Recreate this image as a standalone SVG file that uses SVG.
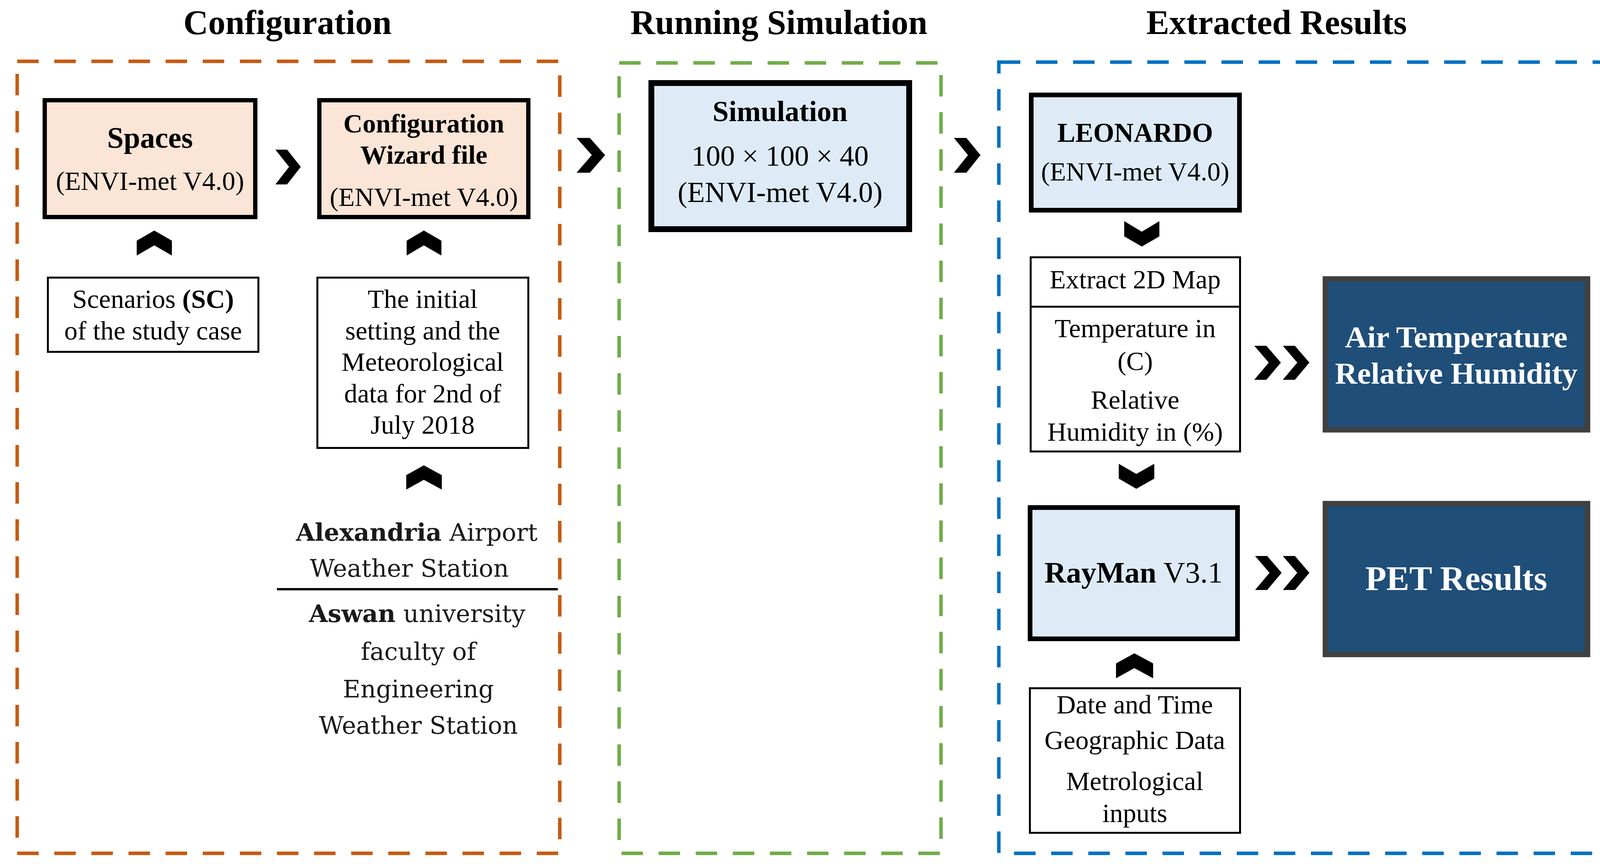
<svg xmlns="http://www.w3.org/2000/svg" width="4139" height="2219" viewBox="0 0 4139 2219">
<style>
text{font-family:"Liberation Serif","Times New Roman",serif;text-anchor:middle;fill:#000}
.title{font-size:88px;font-weight:bold}
.b{font-weight:bold}
.t{font-size:68px}
.hb{font-size:76px;font-weight:bold}
.w{font-family:"DejaVu Serif",serif;font-size:62px;fill:#1a1a1a}
.wh{fill:#fff;font-weight:bold}
.peach{fill:#FBE5D6;stroke:#000;stroke-width:11}
.lb{fill:#DEEBF7;stroke:#000;stroke-width:12}
.thin{fill:#fff;stroke:#000;stroke-width:5}
.dark{fill:#1F4E79;stroke:#404040;stroke-width:14}
.dash{fill:none;stroke-width:9;stroke-dasharray:55 40}
.chev{fill:#000}
</style>

<g id="titles">
<text class="title" x="736" y="87">Configuration</text>
<text class="title" x="1994" y="87">Running Simulation</text>
<text class="title" x="3268" y="87">Extracted Results</text>
</g>

<g id="stages">
<rect id="stage-configuration" class="dash" x="44" y="157" width="1389" height="2027" stroke="#C55A11"/>
<rect id="stage-running" class="dash" x="1585" y="161" width="824" height="2023" stroke="#70AD47"/>
<rect id="stage-results" class="dash" x="2557" y="159" width="1552" height="2025" stroke="#0070C0"/>
</g>

<g id="spaces">
<rect class="peach" x="114.5" y="256.5" width="539" height="299"/>
<text class="hb" x="384" y="378">Spaces</text>
<text class="t" x="384" y="486">(ENVI-met  V4.0)</text>
</g>

<g id="wizard">
<rect class="peach" x="817.5" y="256.5" width="535" height="299"/>
<text class="t b" x="1085" y="339">Configuration</text>
<text class="t b" x="1085" y="419">Wizard  file</text>
<text class="t" x="1085" y="527">(ENVI-met  V4.0)</text>
</g>

<g id="scenarios">
<rect class="thin" x="122.5" y="710.5" width="539" height="190"/>
<text class="t" x="392" y="788">Scenarios <tspan class="b">(SC)</tspan></text>
<text class="t" x="392" y="869">of the study case</text>
</g>

<g id="initial">
<rect class="thin" x="812.5" y="710.5" width="540" height="436"/>
<text class="t" x="1082" y="788">The initial</text>
<text class="t" x="1082" y="869">setting and the</text>
<text class="t" x="1082" y="949">Meteorological</text>
<text class="t" x="1082" y="1030">data for 2nd of</text>
<text class="t" x="1082" y="1110">July 2018</text>
</g>

<g id="stations">
<text class="w" x="1067" y="1384"><tspan font-weight="bold">Alexandria</tspan>  Airport</text>
<text class="w" x="1048" y="1476">Weather  Station</text>
<line x1="709" y1="1508" x2="1428" y2="1508" stroke="#000" stroke-width="6"/>
<text class="w" x="1068" y="1592"><tspan font-weight="bold">Aswan</tspan>  university</text>
<text class="w" x="1071" y="1689">faculty  of</text>
<text class="w" x="1071" y="1785">Engineering</text>
<text class="w" x="1071" y="1878">Weather  Station</text>
</g>

<g id="simulation">
<rect fill="#DEEBF7" stroke="#000" stroke-width="15" x="1667.5" y="212.5" width="660" height="374"/>
<text class="b" font-size="74" x="1997" y="310">Simulation</text>
<text font-size="74" x="1997" y="424">100 × 100 × 40</text>
<text font-size="74" x="1997" y="517">(ENVI-met V4.0)</text>
</g>

<g id="leonardo">
<rect class="lb" x="2640" y="243" width="533" height="295"/>
<text class="b" font-size="69" x="2906" y="363">LEONARDO</text>
<text class="t" font-size="64" x="2906" y="462">(ENVI-met V4.0)</text>
</g>

<g id="extract">
<rect class="thin" x="2638.5" y="658.5" width="536" height="497"/>
<line x1="2638" y1="785" x2="3175" y2="785" stroke="#000" stroke-width="5"/>
<text class="t" x="2906" y="738">Extract 2D Map</text>
<text class="t" x="2906" y="863">Temperature in</text>
<text class="t" x="2906" y="947">(C)</text>
<text class="t" x="2906" y="1046">Relative</text>
<text class="t" x="2906" y="1128">Humidity in (%)</text>
</g>

<g id="air-temperature">
<rect class="dark" x="3393" y="714" width="671" height="386"/>
<text class="wh" font-size="79" x="3728" y="889">Air Temperature</text>
<text class="wh" font-size="79" x="3728" y="982">Relative Humidity</text>
</g>

<g id="rayman">
<rect class="lb" x="2637" y="1299" width="531" height="336"/>
<text font-size="77" x="2902" y="1491"><tspan class="b">RayMan</tspan>  V3.1</text>
</g>

<g id="pet-results">
<rect class="dark" x="3393" y="1289" width="671" height="386"/>
<text class="wh" font-size="88" x="3728" y="1510">PET Results</text>
</g>

<g id="inputs">
<rect class="thin" x="2636.5" y="1761.5" width="538" height="370"/>
<text class="t" x="2905" y="1826">Date and Time</text>
<text class="t" x="2905" y="1917">Geographic Data</text>
<text class="t" x="2905" y="2022">Metrological</text>
<text class="t" x="2905" y="2104">inputs</text>
</g>

<g id="connectors">
<polygon class="chev" points="705,383 735,383 770,427 735,472 705,472 740,427"/>
<polygon class="chev" points="1476,353 1510,353 1549,397 1510,442 1476,442 1515,397"/>
<polygon class="chev" points="2442,353 2474,353 2510,397 2474,442 2442,442 2478,397"/>
<polygon class="chev" points="3211,885 3242,885 3279,928 3242,972 3211,972 3248,928"/>
<polygon class="chev" points="3284,885 3315,885 3352,928 3315,972 3284,972 3321,928"/>
<polygon class="chev" points="3213,1423 3244,1423 3281,1466 3244,1510 3213,1510 3250,1466"/>
<polygon class="chev" points="3284,1423 3315,1423 3352,1466 3315,1510 3284,1510 3321,1466"/>
<polygon class="chev" points="395,590 440,616 440,654 395,628 350,654 350,616"/>
<polygon class="chev" points="1085,590 1130,616 1130,654 1085,628 1041,654 1041,616"/>
<polygon class="chev" points="1085,1191 1131,1216 1131,1253 1085,1228 1040,1253 1040,1216"/>
<polygon class="chev" points="2904,1672 2952,1698 2952,1736 2904,1710 2857,1736 2857,1698"/>
<polygon class="chev" points="2878,566 2923,593 2968,566 2968,605 2923,631 2878,605"/>
<polygon class="chev" points="2864,1187 2909,1213 2955,1187 2955,1225 2909,1251 2864,1225"/>
</g>
</svg>
